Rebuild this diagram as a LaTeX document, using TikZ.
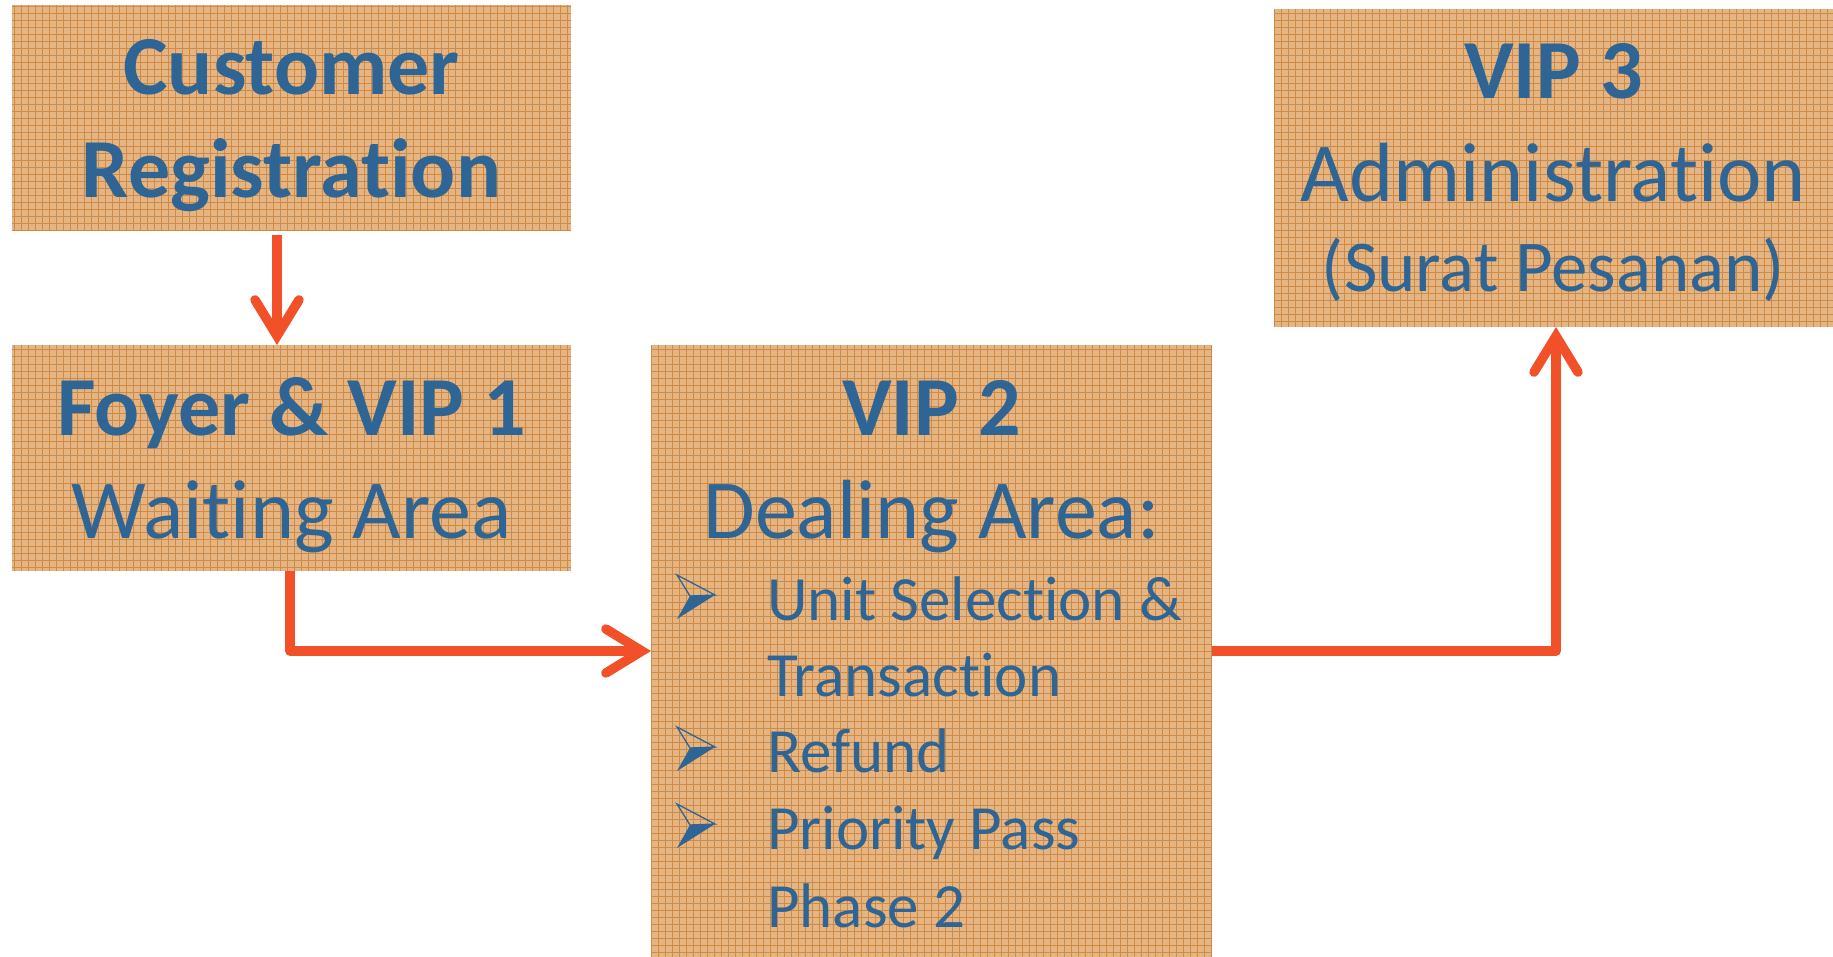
\documentclass[tikz,border=0pt]{standalone}
\usepackage{fontspec}
\setmainfont{Carlito}[Ligatures={NoCommon}]
\usetikzlibrary{arrows.meta}
\definecolor{boxfill}{HTML}{E4B583}
\definecolor{gridc}{HTML}{CF8A45}
\definecolor{txt}{HTML}{2F6594}
\definecolor{arr}{HTML}{F25028}
\tikzset{
  area/.style={rectangle, fill=boxfill, inner sep=0pt, outer sep=0pt},
  big/.style={font=\fontsize{84}{100}\selectfont, text=txt, inner sep=0pt, anchor=base},
  bigb/.style={font=\fontsize{84}{100}\selectfont\bfseries, text=txt, inner sep=0pt, anchor=base},
  mid/.style={font=\fontsize{73}{88}\selectfont, text=txt, inner sep=0pt, anchor=base},
  item/.style={font=\fontsize{63}{76}\selectfont, text=txt, inner sep=0pt, anchor=base west},
  flow/.style={draw=arr, line width=9.5pt, line join=round,
    -{Straight Barb[length=36pt,width=44pt,line cap=round,line join=miter]}},
  bul/.pic={
    \draw[txt, line width=1.3pt, line join=miter] (0,-45) -- (38,-25) -- (13,-24) -- cycle;
    \fill[txt] (13,-24) -- (38,-25) -- (0,-1) -- cycle;
  }
}
\newcommand{\gridbox}[1]{%
  \begin{scope}
    \clip (#1.south west) rectangle (#1.north east);
    \draw[gridc, line width=1pt, step=7pt] (#1.south west) grid (#1.north east);
  \end{scope}}
\begin{document}
\begin{tikzpicture}[x=1pt, y=-1pt]
\useasboundingbox (0,0) rectangle (1833,957);
% boxes
\node[area, minimum width=559pt, minimum height=226pt] (cr) at (291.5,118) {};
\node[area, minimum width=559pt, minimum height=226pt] (foyer) at (291.5,458) {};
\node[area, minimum width=561pt, minimum height=612pt] (vip2) at (931.5,651) {};
\node[area, minimum width=559pt, minimum height=318pt] (vip3) at (1553.5,168) {};
\gridbox{cr}
\gridbox{foyer}
\gridbox{vip2}
\gridbox{vip3}
% texts
\node[bigb] (t1) at (291.5,95) {Customer};
\node[bigb] (t2) at (291.5,198) {Registration};
\node[bigb] (t3) at (291.5,435) {Foyer \& VIP 1};
\node[big]  (t4) at (291.5,538) {Waiting Area};
\node[bigb] (t5) at (931.5,435) {VIP 2};
\node[big]  (t6) at (931.5,538) {Dealing Area:};
\node[bigb] (t7) at (1553.5,99) {VIP 3};
\node[big]  (t8) at (1553.5,202) {Administration};
\node[mid]  (t9) at (1553.5,292) {(Surat Pesanan)};
\pic at (677,620) {bul};
\pic at (677,772) {bul};
\pic at (677,849) {bul};
\node[item] (i1) at (767,620) {Unit Selection \&};
\node[item] (i2) at (767,696) {Transaction};
\node[item] (i3) at (767,772) {Refund};
\node[item] (i4) at (767,849) {Priority Pass};
\node[item] (i5) at (767,927) {Phase 2};
% connectors
\draw[flow, shorten <=4pt] ([xshift=-14.5pt]cr.south) -- ([xshift=-14.5pt]foyer.north);
\draw[flow] ([xshift=-1.5pt]foyer.south) |- (vip2.west);
\draw[flow] (vip2.east) -| ([xshift=2.5pt]vip3.south);
\end{tikzpicture}
\end{document}
